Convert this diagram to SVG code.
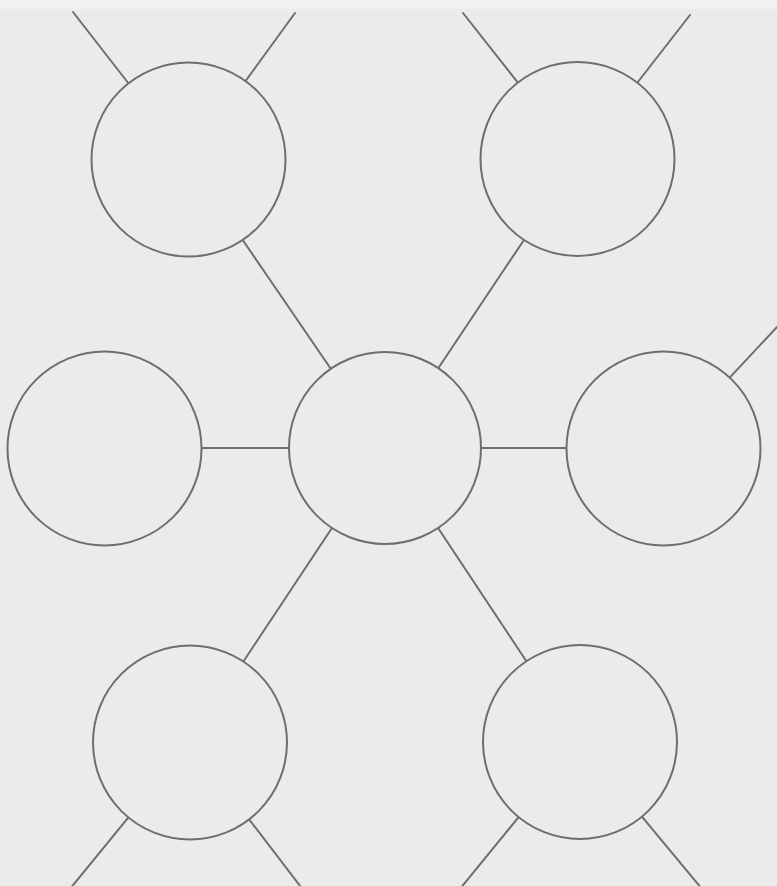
<svg xmlns="http://www.w3.org/2000/svg" width="777" height="886" viewBox="0 0 777 886">
<style>
.bg{fill:#ebebeb}
.c{fill:#ebebeb;stroke:#6e6e6e;stroke-width:2}
.l{stroke:#6e6e6e;stroke-width:2;fill:none;stroke-linecap:round}
</style>
<rect class="bg" x="0" y="0" width="777" height="886"/>
<rect x="0" y="0" width="777" height="9" fill="#f1f1f1"/>
<g id="connectors">
<line class="l" x1="73" y1="12" x2="188" y2="160"/>
<line class="l" x1="295" y1="13" x2="188" y2="160"/>
<line class="l" x1="463" y1="13" x2="578" y2="159"/>
<line class="l" x1="690" y1="15" x2="578" y2="159"/>
<line class="l" x1="188" y1="160" x2="385" y2="448"/>
<line class="l" x1="578" y1="159" x2="385" y2="448"/>
<line class="l" x1="104" y1="448" x2="385" y2="448"/>
<line class="l" x1="385" y1="448" x2="664" y2="448"/>
<line class="l" x1="664" y1="448" x2="790" y2="313"/>
<line class="l" x1="385" y1="448" x2="190" y2="742"/>
<line class="l" x1="385" y1="448" x2="580" y2="742"/>
<line class="l" x1="190" y1="742" x2="65" y2="895"/>
<line class="l" x1="190" y1="742" x2="307" y2="895"/>
<line class="l" x1="580" y1="742" x2="455" y2="895"/>
<line class="l" x1="580" y1="742" x2="707" y2="895"/>
</g>
<g id="node-top-left"><circle class="c" cx="188.5" cy="159.5" r="97"/></g>
<g id="node-top-right"><circle class="c" cx="577.5" cy="159" r="97"/></g>
<g id="node-left"><circle class="c" cx="104.5" cy="448.5" r="97"/></g>
<g id="node-center"><circle class="c" cx="385" cy="448" r="96"/></g>
<g id="node-right"><circle class="c" cx="663.5" cy="448.5" r="97"/></g>
<g id="node-bottom-left"><circle class="c" cx="190" cy="742.5" r="97"/></g>
<g id="node-bottom-right"><circle class="c" cx="580" cy="742" r="97"/></g>
</svg>
